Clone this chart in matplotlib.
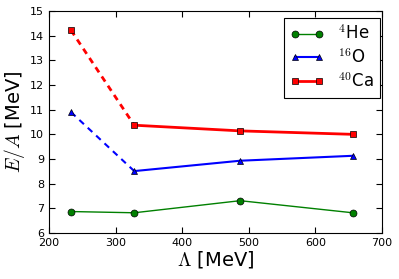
import matplotlib
matplotlib.use("Agg")
import matplotlib.pyplot as plt

plt.rcParams['mathtext.fontset'] = 'cm'
plt.rcParams['font.family'] = ['DejaVu Sans']

lam = [233, 328, 487, 656]
he4 = [6.87, 6.82, 7.31, 6.82]
o16 = [10.9, 8.51, 8.93, 9.13]
ca40 = [14.22, 10.37, 10.14, 10.0]

fig = plt.figure(figsize=(3.99, 2.79), dpi=100)
ax = fig.add_axes([49/399, 1-233/279, 333/399, 222/279])

series = [(he4, 'green', 'o', 1.0, r'$^{4}$He', '-'),
          (o16, 'blue', '^', 1.5, r'$^{16}$O', (0, (3, 2.5))),
          (ca40, 'red', 's', 2.0, r'$^{40}$Ca', (0, (2.2, 1.8)))]
for y, c, m, lw, lab, dls in series:
    ax.plot(lam[:2], y[:2], color=c, lw=lw, ls=dls)
    ax.plot(lam[1:], y[1:], color=c, lw=lw, ls='-')
    ax.plot(lam, y, ls='none', marker=m, color=c, mec='black', mew=0.5, ms=5)
    ax.plot([], [], color=c, lw=lw, marker=m, mec='black', mew=0.5, ms=5, label=lab)

ax.set_xlim(200, 700)
ax.set_ylim(6, 15)
ax.set_xticks([200, 300, 400, 500, 600, 700])
ax.set_yticks(range(6, 16))
ax.tick_params(direction='in', top=True, right=True, labelsize=8, length=4, width=0.8)
ax.set_xlabel(r'$\Lambda$ [MeV]', fontsize=14, labelpad=1)
ax.set_ylabel(r'$E/A$ [MeV]', fontsize=14, labelpad=2)
leg = ax.legend(loc='upper right', bbox_to_anchor=(0.994, 0.9685), numpoints=2,
                fontsize=12, fancybox=False, framealpha=1, edgecolor='black',
                handlelength=2.04, handletextpad=0.8, borderaxespad=0,
                labelspacing=0.3)
leg.get_frame().set_linewidth(0.8)
fig.savefig('out.png', dpi=100, facecolor='white')
